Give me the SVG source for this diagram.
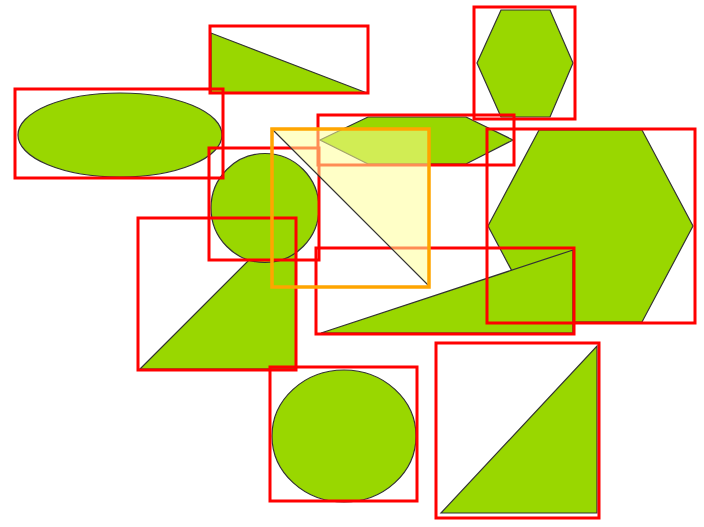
<svg xmlns="http://www.w3.org/2000/svg" width="704" height="527" viewBox="0 0 704 527">
<style>
.shape{fill:#99d700;stroke:#333;stroke-width:1.2}
.frame{fill:none;stroke:#ff0000;stroke-width:3}
.sel{fill:none;stroke:#ffa500;stroke-width:3.5}
.ghost{fill:#ffff99;fill-opacity:0.55;stroke:#333;stroke-width:1.2}
</style>
<rect width="704" height="527" fill="#ffffff"/>
<g id="shapes">
  <g id="node-ellipse"><ellipse class="shape" cx="120" cy="135" rx="102" ry="42"/></g>
  <g id="node-top-triangle"><polygon class="shape" points="211,33 211,93 367,93"/></g>
  <g id="node-top-hexagon"><polygon class="shape" points="501,10 550,10 573,63 550,117 501,117 477,63"/></g>
  <g id="node-mid-hexagon"><polygon class="shape" points="368,117 466,117 513,140 466,164 368,164 320,140"/></g>
  <g id="node-left-triangle"><polygon class="shape" points="140,369 296,213 296,369"/></g>
  <g id="node-mid-circle"><ellipse class="shape" cx="265" cy="208" rx="54" ry="54.5"/></g>
  <g id="node-big-hexagon"><polygon class="shape" points="539,130 642,130 693,226 642,322 539,322 488,226"/></g>
  <g id="node-bottom-triangle"><polygon class="shape" points="321,333 573,250 573,333"/></g>
  <g id="node-bottom-circle"><ellipse class="shape" cx="344" cy="436" rx="72" ry="66"/></g>
  <g id="node-corner-triangle"><polygon class="shape" points="441,513 597,346 597,513"/></g>
</g>
<g id="frames">
  <rect class="frame" x="210" y="26" width="158" height="67"/>
  <rect class="frame" x="15" y="89" width="208" height="89"/>
  <rect class="frame" x="474" y="7" width="101" height="112"/>
  <rect class="frame" x="318" y="115" width="196" height="50"/>
  <rect class="frame" x="209" y="148" width="110" height="112"/>
  <rect class="frame" x="138" y="218" width="158" height="152"/>
  <rect class="frame" x="487" y="129" width="208" height="194"/>
  <rect class="frame" x="316" y="248" width="258" height="86"/>
  <rect class="frame" x="270" y="367" width="147" height="134"/>
  <rect class="frame" x="436" y="343" width="163" height="175"/>
</g>
<g id="node-selected-triangle">
  <polygon class="ghost" points="272,129 429,129 429,286"/>
  <rect class="sel" x="272" y="129" width="157" height="158"/>
</g>
</svg>
